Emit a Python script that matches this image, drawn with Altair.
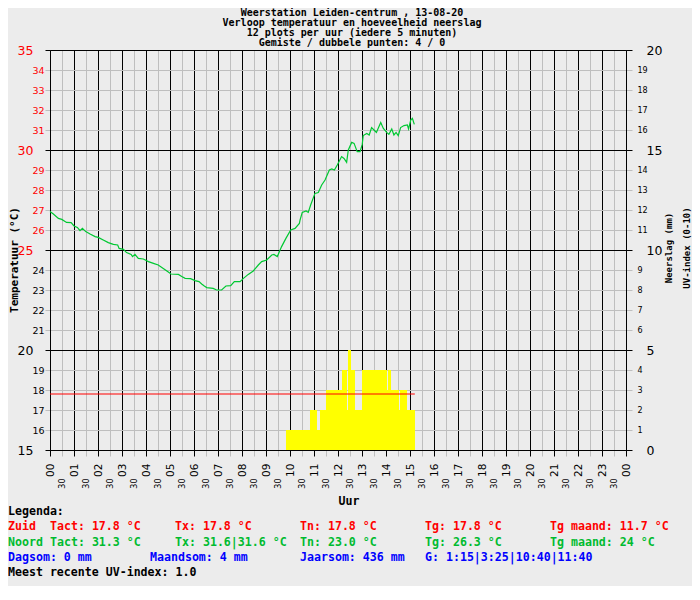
import altair as alt
import pandas as pd

# ---------------- data ----------------
# Noord temperature (decimal hours, degrees C)
noord_hour = [0.0, 0.14, 0.35, 0.49, 0.69, 0.88, 1.0, 1.14, 1.25, 1.35, 1.49, 1.67, 1.88,
              2.01, 2.22, 2.43, 2.64, 2.82, 2.88, 3.06, 3.19, 3.38, 3.44, 3.54, 3.68, 3.89,
              4.1, 4.31, 4.51, 4.72, 4.9, 5.04, 5.35, 5.49, 5.63, 5.86, 6.04, 6.21, 6.32,
              6.43, 6.53, 6.8, 6.94, 7.15, 7.33, 7.53, 7.68, 7.92, 8.06, 8.26, 8.47, 8.68,
              8.82, 9.03, 9.24, 9.33, 9.47, 9.65, 9.83, 10.03, 10.21, 10.39, 10.42, 10.51,
              10.67, 10.76, 10.86, 11.04, 11.18, 11.32, 11.46, 11.64, 11.74, 11.85, 11.97,
              12.15, 12.25, 12.36, 12.43, 12.57, 12.67, 12.8, 12.92, 13.01, 13.05, 13.2,
              13.3, 13.4, 13.5, 13.6, 13.78, 13.89, 14.03, 14.12, 14.24, 14.33, 14.42,
              14.51, 14.61, 14.75, 14.89, 14.94, 15.03, 15.1, 15.18]
noord_temp = [26.92, 26.8, 26.58, 26.53, 26.38, 26.37, 26.2, 26.13, 25.97, 26.08, 25.92, 25.8, 25.67,
              25.63, 25.5, 25.37, 25.28, 25.25, 25.08, 25.03, 24.87, 24.78, 24.67, 24.78, 24.58, 24.55,
              24.42, 24.33, 24.25, 24.08, 23.92, 23.8, 23.78, 23.67, 23.58, 23.57, 23.47, 23.42, 23.3,
              23.2, 23.12, 23.08, 23.0, 23.0, 23.2, 23.22, 23.42, 23.42, 23.58, 23.78, 23.95, 24.25,
              24.42, 24.5, 24.75, 24.78, 24.67, 25.17, 25.58, 26.0, 26.08, 26.33, 26.5, 26.88,
              26.95, 26.88, 27.25, 27.83, 27.87, 28.25, 28.5, 29.0, 29.05, 29.0, 29.25,
              29.67, 29.58, 29.38, 30.0, 30.38, 30.33, 29.92, 29.92, 30.28, 30.72, 30.83,
              30.75, 31.12, 31.0, 30.88, 31.38, 31.08, 30.88, 30.78, 31.05, 30.75, 30.88,
              30.72, 31.12, 31.22, 31.25, 31.05, 31.5, 31.58, 31.28]

# Zuid temperature (constant reading)
zuid_hour = [0.0, 15.2]
zuid_temp = [17.8, 17.8]

# UV-index segments (minutes after midnight)
uv_start = [590, 650, 667.5, 675, 690, 730, 742.5, 745, 752.5, 762.5, 780, 842.5, 845, 852.5, 872.5, 875, 892.5]
uv_end = [650, 667.5, 675, 690, 730, 742.5, 745, 752.5, 762.5, 780, 842.5, 845, 852.5, 872.5, 875, 892.5, 912.5]
uv_index = [0.5, 1.0, 0.5, 1.0, 1.5, 2.0, 1.0, 2.5, 2.0, 1.0, 2.0, 1.5, 2.0, 1.5, 1.0, 1.5, 1.0]

title_lines = ["Weerstation Leiden-centrum , 13-08-20",
               "Verloop temperatuur en hoeveelheid neerslag",
               "12 plots per uur (iedere 5 minuten)",
               "Gemiste / dubbele punten: 4 / 0"]
zuid_row = ["Zuid", "Tact: 17.8 °C", "Tx: 17.8 °C", "Tn: 17.8 °C", "Tg: 17.8 °C", "Tg maand: 11.7 °C"]
noord_row = ["Noord", "Tact: 31.3 °C", "Tx: 31.6|31.6 °C", "Tn: 23.0 °C", "Tg: 26.3 °C", "Tg maand: 24 °C"]
rain_row = ["Dagsom: 0 mm", "Maandsom: 4 mm", "Jaarsom: 436 mm", "G: 1:15|3:25|10:40|11:40"]
uv_line = "Meest recente UV-index: 1.0"

# ---------------- styling ----------------
MONO = "DejaVu Sans Mono"
SANS = "DejaVu Sans"
RED = "#FF0000"
GREEN = "#00C832"
GREEN_TXT = "#00BB2F"
BLUE = "#0000FF"
GRAY = "#BEBEBE"
BG = "#ECECEC"

temp_df = pd.concat([
    pd.DataFrame({"hour": noord_hour, "temp": noord_temp, "station": "Noord"}),
    pd.DataFrame({"hour": zuid_hour, "temp": zuid_temp, "station": "Zuid"}),
])
uv_df = pd.DataFrame({"start": uv_start, "end": uv_end, "uv": uv_index})

xscale = alt.Scale(domain=[0, 24], nice=False, zero=False)
half_hours = [i / 2 for i in range(49)]
is_hour = "datum.value % 1 == 0"
is_five = "datum.value % 5 == 0"

x_axis = alt.Axis(
    values=half_hours, title=None, grid=True,
    gridColor={"condition": {"test": is_hour, "value": "#000000"}, "value": GRAY},
    gridWidth=1, gridOpacity=1,
    tickSize=6,
    tickColor={"condition": {"test": is_hour, "value": "#000000"}, "value": GRAY},
    domainColor="#000000",
    labelExpr="datum.value % 1 == 0 ? (datum.value % 24 < 10 ? '0' : '') + (datum.value % 24) : '30'",
    labelAngle=270, labelAlign="right", labelBaseline="middle",
    labelFont=SANS, labelColor="#000000",
    labelFontSize={"condition": {"test": is_hour, "value": 10.5}, "value": 8},
    labelPadding={"condition": {"test": is_hour, "value": 7}, "value": 22},
    labelOverlap=False, labelFlush=False,
)

left_axis = alt.Axis(
    orient="left", values=list(range(15, 36)), title=None, grid=True,
    gridColor={"condition": {"test": is_five, "value": "#000000"}, "value": GRAY},
    gridWidth=1, gridOpacity=1,
    tickSize=5,
    tickColor={"condition": {"test": is_five, "value": "#000000"}, "value": GRAY},
    domainColor="#000000",
    labelFont=SANS,
    labelColor={"condition": {"test": "datum.value >= 25", "value": RED}, "value": "#000000"},
    labelFontSize={"condition": {"test": is_five, "value": 12.5}, "value": 9.5},
    labelPadding={"condition": {"test": is_five, "value": 12}, "value": 1},
    labelOverlap=False, labelFlush=False,
)

right_axis = alt.Axis(
    orient="right", values=list(range(0, 21)), title=None, grid=False,
    tickSize=6,
    tickColor={"condition": {"test": is_five, "value": "#000000"}, "value": GRAY},
    domainColor="#000000",
    labelFont=SANS, labelColor="#000000",
    labelFontSize={"condition": {"test": is_five, "value": 12.5}, "value": 8},
    labelPadding={"condition": {"test": is_five, "value": 14}, "value": 5},
    labelOverlap=False, labelFlush=False,
)

bars = alt.Chart(uv_df).transform_calculate(
    x0="datum.start / 60", x1="datum.end / 60", lvl="datum.uv * 2", base="0"
).mark_rect(color="#FFFF00").encode(
    x=alt.X("x0:Q", scale=xscale, axis=x_axis),
    x2="x1:Q",
    y=alt.Y("lvl:Q", scale=alt.Scale(domain=[0, 20], nice=False, zero=True), axis=right_axis),
    y2="base:Q",
)

lines = alt.Chart(temp_df).mark_line(strokeWidth=1.2).encode(
    x=alt.X("hour:Q", scale=xscale, axis=x_axis),
    y=alt.Y("temp:Q", scale=alt.Scale(domain=[15, 35], nice=False, zero=False), axis=left_axis),
    color=alt.Color("station:N", scale=alt.Scale(domain=["Zuid", "Noord"], range=[RED, GREEN]), legend=None),
)


def txt(s, x, y, color="#000000", size=11.6, align="left", angle=0, font=MONO, weight="bold"):
    return alt.Chart(pd.DataFrame({"label": [s]})).mark_text(
        align=align, baseline="middle", font=font, fontSize=size, fontWeight=weight,
        color=color, angle=angle,
    ).encode(x=alt.value(x), y=alt.value(y), text="label:N")


texts = []
for i, line in enumerate(title_lines):
    texts.append(txt(line, 302, -37 + 10 * i, align="center", size=10))
texts.append(txt("Temperatuur (°C)", -35.5, 210, align="center", angle=270, size=11))
texts.append(txt("Neerslag (mm)", 619, 198, align="center", angle=270, size=9))
texts.append(txt("UV-index (0-10)", 637, 198, align="center", angle=270, size=9))
texts.append(txt("Uur", 299, 452, align="center"))

cols = [-42, 0, 125, 250, 375, 500]
texts.append(txt("Legenda:", -42, 462))
for s, cx in zip(zuid_row, cols):
    texts.append(txt(s, cx, 477, color=RED))
for s, cx in zip(noord_row, cols):
    texts.append(txt(s, cx, 493, color=GREEN_TXT))
for s, cx in zip(rain_row, [-42, 100, 250, 375]):
    texts.append(txt(s, cx, 508, color=BLUE))
texts.append(txt(uv_line, -42, 523))

chart = alt.layer(bars, lines, *texts).resolve_scale(y="independent").properties(
    width=576, height=400,
    autosize=alt.AutoSizeParams(type="none"),
    padding={"left": 42, "top": 42, "right": 66, "bottom": 136},
    background=BG,
).configure_view(stroke=None)

chart.save("out.html", embed_options={"renderer": "svg", "actions": False})
